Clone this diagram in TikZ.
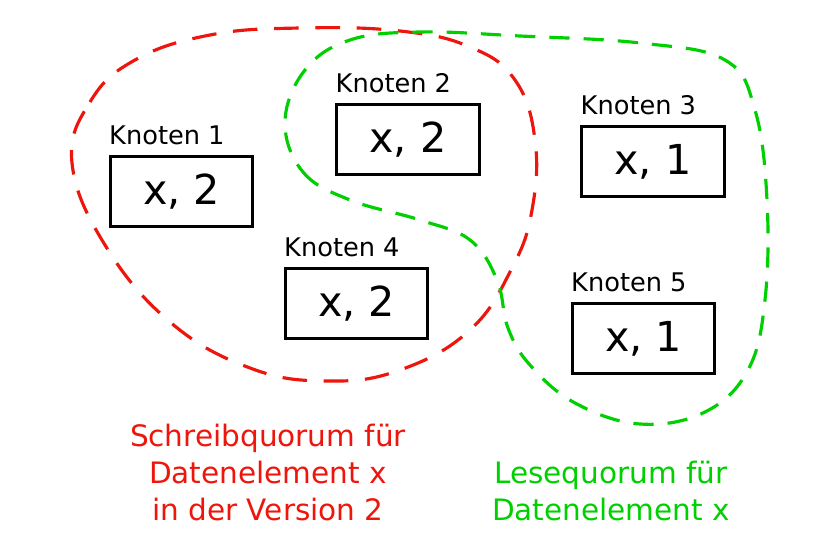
\documentclass[tikz,border=0pt]{standalone}
\usepackage{fontspec}
\setmainfont{DejaVu Sans}
\usetikzlibrary{positioning}
\definecolor{schreibrot}{RGB}{238,22,12}
\definecolor{lesegruen}{RGB}{0,208,0}

\begin{document}
\begin{tikzpicture}[x=0.02cm,y=-0.02cm,
  knoten/.style={draw,line width=1.6pt,minimum width=143*0.567pt,minimum height=71*0.567pt,
    inner sep=0,font=\fontsize{23.5}{27}\selectfont},
  knotenname/.style={inner sep=0,font=\fontsize{14.6}{17}\selectfont},
  quorum/.style={line width=1.8pt,dash pattern=on 14pt off 9.5pt},
  legende/.style={inner sep=0,align=center,anchor=north,font=\fontsize{16.8}{21}\selectfont}]
  \useasboundingbox (0,0) rectangle (840,547);

  % Knoten
  \node[knoten](k1) at (181.5,191.5){x, 2};
  \node[knoten](k2) at (408,139.5){x, 2};
  \node[knoten](k3) at (653,161.5){x, 1};
  \node[knoten](k4) at (356.5,303.5){x, 2};
  \node[knoten](k5) at (643.5,338.5){x, 1};
  \node[knotenname](n1)[above right=5.5pt and 0pt of k1.north west]{Knoten 1};
  \node[knotenname](n2)[above right=5.5pt and 0pt of k2.north west]{Knoten 2};
  \node[knotenname](n3)[above right=5.5pt and 0pt of k3.north west]{Knoten 3};
  \node[knotenname](n4)[above right=5.5pt and 0pt of k4.north west]{Knoten 4};
  \node[knotenname](n5)[above right=5.5pt and 0pt of k5.north west]{Knoten 5};

  % Schreibquorum
  \draw[quorum,schreibrot] plot[smooth cycle,tension=0.7] coordinates {
    (72,163) (90,102) (135,60) (210,35) (300,28) (400,31)
    (470,47) (515,80) (535,140) (532,210) (512,268)
    (470,330) (400,370) (327,381) (250,368)
    (170,322) (105,245)};
  % Lesequorum
  \draw[quorum,lesegruen,dash pattern=on 11.5pt off 8pt] plot[smooth cycle,tension=0.65] coordinates {
    (285,122) (303,172) (350,200) (420,220) (470,240)
    (497,280) (508,328) (530,365) (575,403) (640,424)
    (705,412) (748,370) (765,300) (767,200) (755,110)
    (725,60) (640,43) (520,36) (420,32) (350,40)
    (305,70)};

  \node[legende,text=schreibrot](schreib) at (268,424){Schreibquorum für\\Datenelement x\\in der Version 2};
  \node[legende,text=lesegruen](lese) at (611,461){Lesequorum für\\Datenelement x};
\end{tikzpicture}
\end{document}
